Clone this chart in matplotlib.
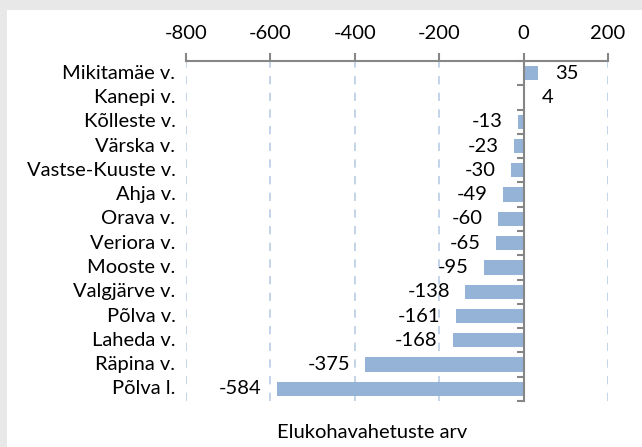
import matplotlib.pyplot as plt
from matplotlib.patches import Rectangle
import matplotlib.transforms as mtransforms

plt.rcParams['font.family'] = ['Lato', 'DejaVu Sans']

regions = ["Mikitamäe v.", "Kanepi v.", "Kõlleste v.", "Värska v.", "Vastse-Kuuste v.",
           "Ahja v.", "Orava v.", "Veriora v.", "Mooste v.", "Valgjärve v.",
           "Põlva v.", "Laheda v.", "Räpina v.", "Põlva l."]
values = [35, 4, -13, -23, -30, -49, -60, -65, -95, -138, -161, -168, -375, -584]
xticks = [-800, -600, -400, -200, 0, 200]
xlabel = "Elukohavahetuste arv"

bar_color = "#95b3d7"
axis_gray = "#868686"
grid_blue = "#b9cde5"
fs = 14.5

fig = plt.figure(figsize=(6.42, 4.47), dpi=100)
fig.patch.set_facecolor("#e8e8e8")
fig.patches.append(Rectangle((7 / 642, 0), 1, 1 - 10 / 447, transform=fig.transFigure,
                             facecolor="white", edgecolor="none", zorder=-10))

ax = fig.add_axes([186 / 642, 1 - 401 / 447, 422 / 642, 340 / 447])
ax.set_facecolor("none")

y = list(range(len(regions)))
ax.barh(y, values, height=0.59, color=bar_color, zorder=3)

ax.set_xlim(xticks[0], xticks[-1])
ax.set_ylim(len(regions) - 0.5, -0.5)

# top axis
ax.xaxis.tick_top()
ax.set_xticks(xticks)
ax.set_xticklabels([str(t) for t in xticks], fontsize=fs)
ax.tick_params(axis="x", direction="out", length=6, width=1.5, color=axis_gray, pad=8)
for v in xticks:
    ax.axvline(v, color=grid_blue, lw=1.2, ls=(0, (5, 5)), zorder=1)

for s in ["right", "bottom"]:
    ax.spines[s].set_visible(False)
ax.spines["top"].set_color(axis_gray)
ax.spines["top"].set_linewidth(1.5)
ax.spines["top"].set_zorder(4)
ax.spines["left"].set_position(("data", 0))
ax.spines["left"].set_color(axis_gray)
ax.spines["left"].set_linewidth(1.5)
ax.spines["left"].set_zorder(4)

ax.set_yticks(y)
ax.set_yticklabels([])
ax.tick_params(axis="y", which="major", length=0)
ax.set_yticks([i - 0.5 for i in range(len(regions) + 1)], minor=True)
ax.tick_params(axis="y", which="minor", direction="out", length=5, width=1.5, color=axis_gray)

trans = mtransforms.blended_transform_factory(ax.transAxes, ax.transData)
for i, name in enumerate(regions):
    ax.text(-0.025, i, name, transform=trans, ha="right", va="center", fontsize=fs)

for i, v in enumerate(values):
    if v >= 0:
        ax.annotate(str(v), (v, i), xytext=(12, 0), textcoords="offset points",
                    ha="left", va="center", fontsize=fs)
    else:
        ax.annotate(str(v), (v, i), xytext=(-11, 0), textcoords="offset points",
                    ha="right", va="center", fontsize=fs)

fig.text(372 / 642, 1 - 433 / 447, xlabel, ha="center", va="center", fontsize=fs)

fig.savefig("out.png", dpi=100)
